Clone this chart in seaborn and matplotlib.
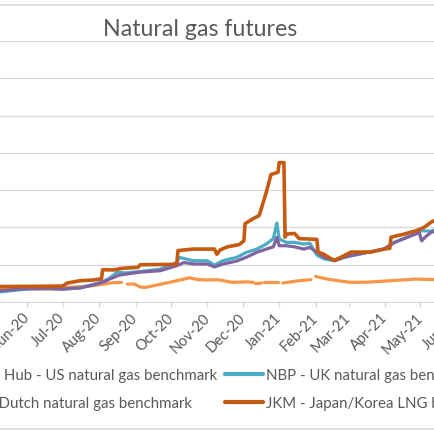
import pandas as pd
import matplotlib.pyplot as plt
from matplotlib.lines import Line2D
from matplotlib.patches import Rectangle
import seaborn as sns

sns.set_style("white")
plt.rcParams['font.family'] = ['Lato', 'DejaVu Sans']

# values, $/MMBtu (None = no quote that day)
hh_dates = ['2020-05-08', '2020-05-20', '2020-06-01', '2020-06-15', '2020-06-25', '2020-07-05',
            '2020-07-16', '2020-07-27', '2020-08-05', '2020-08-13', '2020-08-20', '2020-08-23',
            '2020-08-25', '2020-08-31', '2020-09-05', '2020-09-10', '2020-09-19', '2020-10-03',
            '2020-10-17', '2020-10-24', '2020-11-01', '2020-11-10', '2020-11-22', '2020-12-05',
            '2020-12-10', '2020-12-11', '2020-12-12', '2020-12-17', '2020-12-18', '2020-12-19',
            '2020-12-31', '2021-01-02', '2021-01-04', '2021-01-18', '2021-01-28', '2021-01-29',
            '2021-02-01', '2021-02-10', '2021-02-20', '2021-03-02', '2021-03-17', '2021-03-31',
            '2021-04-15', '2021-04-27', '2021-05-14']
hh_vals = [1.85, 1.74, 1.76, 1.74, 1.72, 1.97,
           2.05, 2.2, 2.41, 2.6, 2.64, None,
           2.41, 2.41, 2.0, 1.97, 2.28, 2.75,
           3.25, 3.0, 2.95, 2.99, 2.64, 2.7,
           2.64, None, 2.45, 2.55, None, 2.72,
           2.72, None, 2.55, 2.86, 3.0, None,
           3.44, 3.1, 2.86, 2.64, 2.66, 2.8,
           2.95, 3.08, 3.0]

ttf_dates = ['2020-05-08', '2020-05-20', '2020-06-01', '2020-06-20', '2020-07-01', '2020-07-16',
             '2020-07-27', '2020-08-05', '2020-08-10', '2020-08-18', '2020-08-24', '2020-09-05',
             '2020-09-22', '2020-10-06', '2020-10-12', '2020-10-20', '2020-11-01', '2020-11-07',
             '2020-11-14', '2020-11-26', '2020-12-04', '2020-12-13', '2020-12-21', '2020-12-27',
             '2020-12-30', '2021-01-01', '2021-01-07', '2021-01-14', '2021-01-22', '2021-01-27',
             '2021-02-02', '2021-02-08', '2021-02-14', '2021-02-17', '2021-02-25', '2021-03-03',
             '2021-03-17', '2021-03-31', '2021-04-09', '2021-04-23', '2021-04-30', '2021-05-02',
             '2021-05-05', '2021-05-10', '2021-05-14']
ttf_vals = [1.5, 1.65, 1.8, 1.82, 1.74, 1.9,
            2.28, 2.7, 3.08, 3.6, 3.75, 4.0,
            4.2, 4.87, 5.3, 5.1, 5.1, 4.7,
            5.09, 5.5, 6.0, 6.66, 7.1, 7.4,
            8.67, 7.55, 7.55, 7.4, 7.1, 7.33,
            6.66, 6.0, 5.76, 5.54, 5.99, 6.21,
            6.66, 7.1, 8.0, 8.89, 9.3, 8.2,
            8.7, 9.34, 9.5]

nbp_dates = ['2020-05-08', '2020-05-20', '2020-06-01', '2020-06-20', '2020-07-01', '2020-07-16',
             '2020-07-27', '2020-08-05', '2020-08-10', '2020-08-16', '2020-08-24', '2020-09-05',
             '2020-09-22', '2020-10-06', '2020-10-08', '2020-10-20', '2020-11-01', '2020-11-07',
             '2020-11-14', '2020-11-26', '2020-12-04', '2020-12-13', '2020-12-21', '2020-12-27',
             '2020-12-30', '2021-01-01', '2021-01-07', '2021-01-14', '2021-01-22', '2021-01-27',
             '2021-02-02', '2021-02-08', '2021-02-14', '2021-02-17', '2021-02-25', '2021-03-03',
             '2021-03-17', '2021-03-31', '2021-04-09', '2021-04-23', '2021-05-02', '2021-05-10',
             '2021-05-14']
nbp_vals = [1.34, 1.55, 1.75, 1.84, 1.72, 1.9,
            2.35, 2.8, 3.2, 3.98, 3.9, 4.1,
            4.4, 5.3, 5.99, 5.54, 5.54, 4.95,
            5.54, 5.99, 6.66, 7.1, 7.77, 8.5,
            10.6, 8.45, 8.0, 8.0, 7.77, 7.9,
            6.3, 5.8, 5.6, 5.54, 5.99, 6.21,
            6.66, 7.1, 8.0, 8.89, 9.56, 9.5,
            9.7]

jkm_dates = ['2020-05-08', '2020-06-01', '2020-06-20', '2020-07-01', '2020-07-05', '2020-07-16',
             '2020-07-27', '2020-08-01', '2020-08-03', '2020-08-04', '2020-08-13', '2020-08-21',
             '2020-09-03', '2020-09-05', '2020-10-03', '2020-10-06', '2020-10-07', '2020-10-20',
             '2020-11-07', '2020-11-09', '2020-11-12', '2020-11-18', '2020-11-28', '2020-12-02',
             '2020-12-03', '2020-12-09', '2020-12-15', '2020-12-21', '2020-12-25', '2020-12-31',
             '2021-01-01', '2021-01-05', '2021-01-06', '2021-01-07', '2021-01-14', '2021-01-18',
             '2021-02-02', '2021-02-03', '2021-02-08', '2021-02-14', '2021-02-17', '2021-02-25',
             '2021-03-03', '2021-03-20', '2021-03-31', '2021-04-05', '2021-04-06', '2021-04-17',
             '2021-04-28', '2021-05-04', '2021-05-10', '2021-05-14']
jkm_vals = [2.08, 2.1, 2.12, 2.15, 2.55, 2.86,
            2.95, 3.08, 3.1, 4.33, 4.3, 4.52,
            4.65, 5.0, 5.05, 5.1, 6.9, 7.1,
            7.1, 6.4, 7.0, 7.4, 7.7, 8.2,
            10.5, 11.1, 11.6, 14.7, 17.1, 17.4,
            18.7, 18.7, 8.7, 9.1, 9.2, 8.5,
            8.4, 6.7, 6.4, 5.8, 5.6, 6.2,
            6.7, 6.7, 7.1, 7.2, 8.7, 9.1,
            9.6, 10.0, 10.7, 11.0]

labels = ['Henry Hub - US natural gas benchmark', 'TTF - Dutch natural gas benchmark',
          'NBP - UK natural gas benchmark', 'JKM - Japan/Korea LNG benchmark']
colors = ['#F79646', '#8064A2', '#4BACC6', '#C55A11']
month_ticks = pd.date_range('2020-05-01', '2021-06-01', freq='MS')

GRAY = '#595959'
GRID = '#D9D9D9'


def to_frame(dates, vals):
    d = pd.DataFrame({'date': pd.to_datetime(dates),
                      'price': pd.to_numeric(pd.Series(vals, dtype=object))})
    d['seg'] = d['price'].isna().cumsum()
    return d.dropna()


fig = plt.figure(figsize=(4.35, 4.35), dpi=100)
# the chart is cropped on both sides, so the axes run past the figure edges
ax = fig.add_axes([-0.0211, 0.3034, 1.1094, 0.6])

lw = 2.3
sns.lineplot(data=to_frame(hh_dates, hh_vals), x='date', y='price', units='seg',
             estimator=None, color=colors[0], lw=lw, ax=ax)
sns.lineplot(data=to_frame(nbp_dates, nbp_vals), x='date', y='price',
             color=colors[2], lw=lw, ax=ax)
sns.lineplot(data=to_frame(ttf_dates, ttf_vals), x='date', y='price',
             color=colors[1], lw=lw, ax=ax)
sns.lineplot(data=to_frame(jkm_dates, jkm_vals), x='date', y='price',
             color=colors[3], lw=lw + 0.3, ax=ax)

ax.set_xlim(pd.Timestamp('2020-05-01'), pd.Timestamp('2021-06-15'))
ax.set_ylim(0, 35)
ax.set_yticks(range(0, 36, 5))
ax.yaxis.grid(True, color=GRID, lw=1)
ax.xaxis.grid(False)
ax.tick_params(axis='y', length=0, labelleft=False)
ax.set_xticks(month_ticks)
ax.set_xticklabels([d.strftime('%b-%y') for d in month_ticks], rotation=45, ha='right',
                   va='center', rotation_mode='anchor')
ax.tick_params(axis='x', bottom=True, length=3.3, width=1, color=GRID, pad=6,
               labelsize=10.5, labelcolor=GRAY)
for s in ['left', 'right', 'top']:
    ax.spines[s].set_visible(False)
ax.spines['bottom'].set_color(GRID)
ax.set_xlabel('')
ax.set_ylabel('')

fig.text(200 / 435, 1 - 36 / 435, 'Natural gas futures', ha='center', va='baseline',
         fontsize=16.7, color=GRAY)

handles = [Line2D([], [], color=c, lw=3) for c in colors]
leg_kw = dict(frameon=False, fontsize=10.8, handlelength=2.5, handletextpad=0.2,
              labelspacing=0.95, borderpad=0, borderaxespad=0, labelcolor=GRAY)
fig.legend(handles[:2], labels[:2], loc='center right',
           bbox_to_anchor=(217 / 435, 1 - 390 / 435), **leg_kw)
fig.legend(handles[2:], labels[2:], loc='center left',
           bbox_to_anchor=(225 / 435, 1 - 390 / 435), **leg_kw)

# chart area border (only top and bottom edges fall inside the crop)
fig.add_artist(Rectangle((-0.05, 1 - 430 / 435), 1.1, 424 / 435, transform=fig.transFigure,
                         fill=False, edgecolor=GRID, lw=1.2))

fig.savefig('out.png', dpi=100)
